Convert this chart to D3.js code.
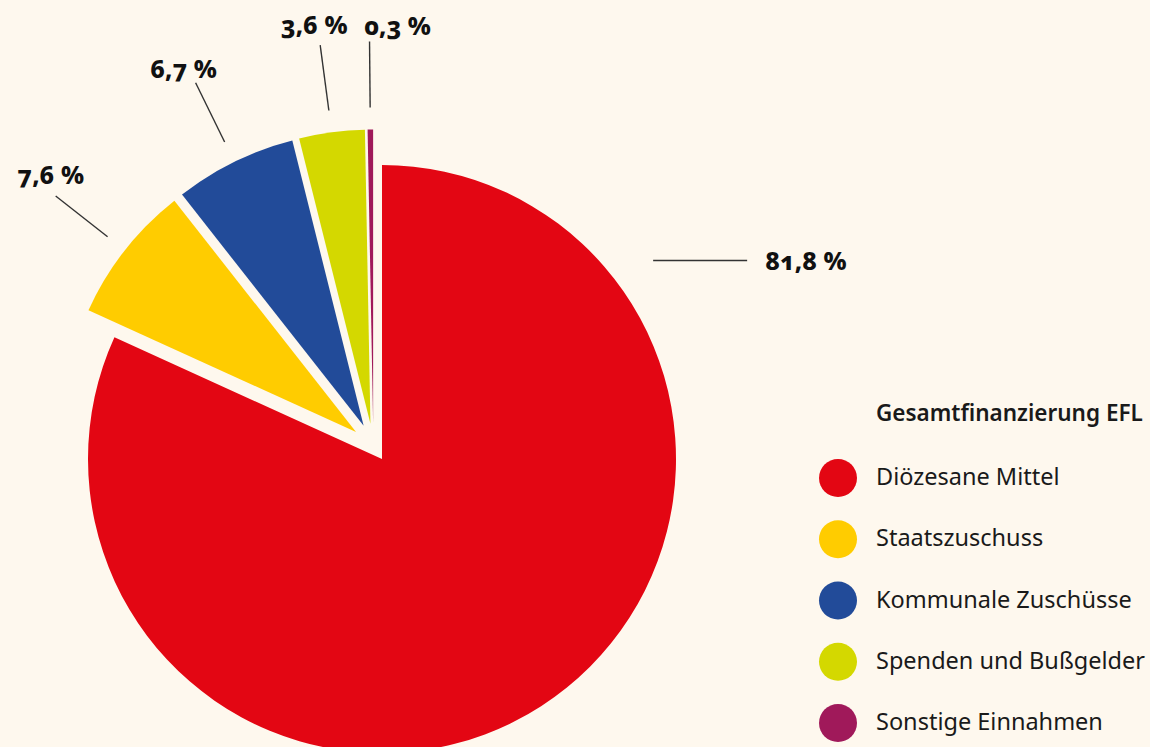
<!DOCTYPE html>
<html>
<head>
<meta charset="utf-8">
<script src="https://cdn.jsdelivr.net/npm/d3@7"></script>
<style>
  html, body { margin: 0; padding: 0; background: #fef8ee; }
  svg { display: block; }
  .pct { font-family: "Noto Sans", "Open Sans", sans-serif; font-weight: 800; font-size: 25px; font-variant-numeric: oldstyle-nums; fill: #111; }
  .legend-title { font-family: "Noto Sans", "Open Sans", sans-serif; font-weight: 600; font-size: 22.5px; fill: #1a1a1a; }
  .legend-item { font-family: "Noto Sans", "Open Sans", sans-serif; font-size: 23.5px; fill: #1a1a1a; }
</style>
</head>
<body>
<svg></svg>
<script>
// Data
const categories = ["Diözesane Mittel", "Staatszuschuss", "Kommunale Zuschüsse", "Spenden und Bußgelder", "Sonstige Einnahmen"];
const shares = [81.8, 7.6, 6.7, 3.6, 0.3];
const colors = ["#e30613", "#ffcc00", "#224b99", "#d4d800", "#a0195a"];
const legendTitle = "Gesamtfinanzierung EFL";

// Layout
const svgWidth = 1150;
const svgHeight = 747;
const cx = 382, cy = 459;
const radius = 294;
const groupShift = 16;   // small slices pulled out together
const sliceShift = 22;   // plus each one along its own bisector
const labelDx = [0, -5, -12, -6, 28];
const labelDy = [0, -12, -5, -11, -7];

const svg = d3.select("svg")
    .attr("width", svgWidth)
    .attr("height", svgHeight);

const fmt = d3.formatLocale({ decimal: ",", thousands: ".", grouping: [3], currency: ["", " €"] }).format(".1f");

const pie = d3.pie().sort(null).value(d => d);
const arcs = pie(shares);
const arc = d3.arc().innerRadius(0).outerRadius(radius);

const dir = a => [Math.sin(a), -Math.cos(a)];

// direction of the whole group of small slices
const groupMid = (arcs[1].startAngle + arcs[arcs.length - 1].endAngle) / 2;
const gDir = dir(groupMid);

function offsetOf(d, i) {
    if (i === 0) return [0, 0];
    const m = dir((d.startAngle + d.endAngle) / 2);
    return [gDir[0] * groupShift + m[0] * sliceShift, gDir[1] * groupShift + m[1] * sliceShift];
}

const pieG = svg.append("g").attr("transform", `translate(${cx}, ${cy})`);

pieG.selectAll("path.slice")
    .data(arcs)
    .enter()
    .append("path")
    .attr("class", "slice")
    .attr("transform", (d, i) => `translate(${offsetOf(d, i)})`)
    .attr("d", arc)
    .attr("fill", (d, i) => colors[i]);

// Leader lines and percentage labels
arcs.forEach((d, i) => {
    const off = offsetOf(d, i);
    if (i === 0) {
        // big slice: horizontal leader on the upper right
        const a = 53.8 * Math.PI / 180;
        const m = dir(a);
        const x0 = m[0] * (radius + 42), y0 = m[1] * (radius + 42);
        pieG.append("line")
            .attr("x1", x0).attr("y1", y0)
            .attr("x2", x0 + 94).attr("y2", y0)
            .attr("stroke", "#333").attr("stroke-width", 1.4);
        pieG.append("text")
            .attr("class", "pct")
            .attr("x", x0 + 94 + 18)
            .attr("y", y0)
            .attr("dy", "0.36em")
            .text(fmt(shares[i]) + " %");
        return;
    }
    const m = dir((d.startAngle + d.endAngle) / 2);
    const r1 = radius + 22, r2 = radius + 88;
    const x1 = off[0] + m[0] * r1, y1 = off[1] + m[1] * r1;
    const x2 = off[0] + m[0] * r2, y2 = off[1] + m[1] * r2;
    pieG.append("line")
        .attr("x1", x1).attr("y1", y1)
        .attr("x2", x2).attr("y2", y2)
        .attr("stroke", "#333").attr("stroke-width", 1.4);
    pieG.append("text")
        .attr("class", "pct")
        .attr("x", x2 + labelDx[i])
        .attr("y", y2 + labelDy[i])
        .attr("text-anchor", "middle")
        .text(fmt(shares[i]) + " %");
});

// Legend
const legend = svg.append("g").attr("transform", "translate(876, 421)");

legend.append("text")
    .attr("class", "legend-title")
    .text(legendTitle);

const items = legend.selectAll("g.item")
    .data(categories)
    .enter()
    .append("g")
    .attr("class", "item")
    .attr("transform", (d, i) => `translate(0, ${57 + i * 61.25})`);

items.append("circle")
    .attr("cx", -38)
    .attr("cy", 0)
    .attr("r", 19)
    .attr("fill", (d, i) => colors[i]);

items.append("text")
    .attr("class", "legend-item")
    .attr("x", 0)
    .attr("y", 7)
    .text(d => d);
</script>
</body>
</html>
